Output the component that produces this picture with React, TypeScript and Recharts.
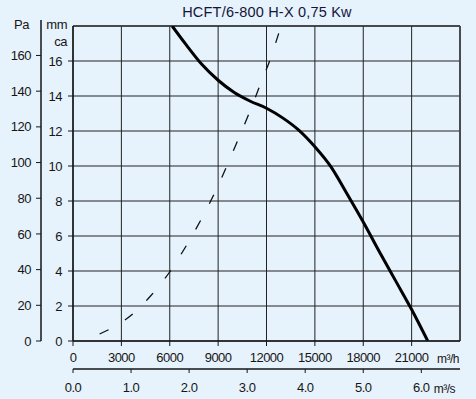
import React from "react";
import {
  ComposedChart,
  Line,
  XAxis,
  YAxis,
  CartesianGrid,
  ReferenceLine,
  Label,
} from "recharts";

// Tick values
const flowTicks = [0, 3000, 6000, 9000, 12000, 15000, 18000, 21000];
const secTicks = [0, 1, 2, 3, 4, 5, 6];
const mmTicks = [0, 2, 4, 6, 8, 10, 12, 14, 16];
const paTicks = [0, 20, 40, 60, 80, 100, 120, 140, 160];

// Fan curve (m3/h, mm ca)
const fanFlow = [6150, 7000, 8000, 9000, 10000, 11000, 12000, 13000, 14000, 15000, 16000, 17000, 18000, 19000, 20000, 21000, 22000];
const fanPressure = [18.0, 16.95, 15.8, 14.9, 14.2, 13.7, 13.3, 12.75, 12.05, 11.1, 9.95, 8.4, 6.8, 5.1, 3.45, 1.8, 0];

// System (dashed) curve (m3/h, mm ca)
const sysFlow = [1650, 3510, 4810, 5960, 6930, 7860, 8700, 10190, 10870, 11550, 12230, 12900];
const sysPressure = [0.4, 1.4, 2.57, 3.9, 5.3, 6.8, 8.3, 11.4, 12.9, 14.5, 16.1, 18.0];

const TITLE = "HCFT/6-800 H-X 0,75 Kw";
const MAX_FLOW = 24000;
const MAX_MM = 18;
const PA_PER_MM = 9.80665;
const H_PER_S = 3600;

const fanData = fanFlow.map((q, i) => ({ q, p: fanPressure[i] }));
const sysData = sysFlow.map((q, i) => ({ q, p: sysPressure[i] }));
const secData = fanFlow.map((q, i) => ({ s: q / H_PER_S, p: fanPressure[i] }));

const BG = "#e6f2fc";
const INK = "#161616";
const FONT = "'Liberation Sans', Arial, sans-serif";

const tickStyle = { fontSize: 13, fill: INK, fontFamily: FONT, letterSpacing: -0.5 };

const txt = (x: number, y: number, s: string, size = 13) => (
  <text
    x={x}
    y={y}
    textAnchor="end"
    fontSize={size}
    fill={INK}
    fontFamily={FONT}
    style={{ letterSpacing: -0.5 }}
  >
    {s}
  </text>
);

export default function App() {
  return (
    <div
      style={{
        position: "absolute",
        left: 0,
        top: 0,
        width: 476,
        height: 399,
        background: BG,
        fontFamily: FONT,
      }}
    >
      <ComposedChart
        width={476}
        height={399}
        margin={{ top: 26, right: 16, bottom: 0, left: 0 }}
      >
        <CartesianGrid
          xAxisId="h"
          yAxisId="mm"
          stroke="#222"
          strokeWidth={1}
        />
        <XAxis
          xAxisId="h"
          dataKey="q"
          type="number"
          domain={[0, MAX_FLOW]}
          ticks={flowTicks}
          interval={0}
          allowDataOverflow
          height={28}
          tickSize={5}
          tickMargin={7}
          tick={tickStyle}
          axisLine={{ stroke: INK, strokeWidth: 1.5 }}
          tickLine={{ stroke: INK }}
        >
          <Label
            content={(props: any) => {
              const vb = props.viewBox || {};
              return txt(vb.x + vb.width - 1, vb.y + 22, "m³/h", 12);
            }}
          />
        </XAxis>
        <XAxis
          xAxisId="s"
          dataKey="s"
          type="number"
          domain={[0, MAX_FLOW / H_PER_S]}
          ticks={secTicks}
          interval={0}
          allowDataOverflow
          height={30}
          tickSize={4}
          tickMargin={10}
          tick={tickStyle}
          tickFormatter={(v: number) => v.toFixed(1)}
          axisLine={{ stroke: INK, strokeWidth: 1.5 }}
          tickLine={{ stroke: INK }}
        >
          <Label
            content={(props: any) => {
              const vb = props.viewBox || {};
              return txt(vb.x + vb.width - 5, vb.y + 24, "m³/s", 12);
            }}
          />
        </XAxis>
        <YAxis
          yAxisId="mm"
          type="number"
          domain={[0, MAX_MM]}
          ticks={mmTicks}
          interval={0}
          allowDataOverflow
          width={32}
          tickSize={5}
          tickMargin={6}
          tick={tickStyle}
          axisLine={{ stroke: INK, strokeWidth: 1.5 }}
          tickLine={{ stroke: INK }}
        >
          <Label
            content={(props: any) => {
              const vb = props.viewBox || {};
              const right = vb.x + vb.width - 6;
              return (
                <g>
                  {txt(right, vb.y + 2.5, "mm")}
                  {txt(right, vb.y + 20, "ca")}
                </g>
              );
            }}
          />
        </YAxis>
        <YAxis
          yAxisId="pa"
          type="number"
          domain={[0, MAX_MM * PA_PER_MM]}
          ticks={paTicks}
          interval={0}
          allowDataOverflow
          width={41}
          tickSize={5}
          tickMargin={5}
          tick={tickStyle}
          axisLine={{ stroke: INK, strokeWidth: 1.5 }}
          tickLine={{ stroke: INK }}
        >
          <Label
            content={(props: any) => {
              const vb = props.viewBox || {};
              const ax = vb.x + vb.width;
              return (
                <g>
                  <line x1={ax} x2={ax} y1={vb.y - 6} y2={vb.y} stroke={INK} strokeWidth={1.5} />
                  {txt(ax - 12, vb.y + 2.5, "Pa")}
                </g>
              );
            }}
          />
        </YAxis>
        <ReferenceLine xAxisId="h" yAxisId="mm" y={MAX_MM} stroke="#333" strokeWidth={1.5} />
        <ReferenceLine xAxisId="h" yAxisId="mm" x={MAX_FLOW} stroke="#444" strokeWidth={1.8} />
        <Line
          xAxisId="s"
          yAxisId="mm"
          data={secData}
          dataKey="p"
          stroke="none"
          dot={false}
          activeDot={false}
          legendType="none"
          isAnimationActive={false}
        />
        <Line
          xAxisId="h"
          yAxisId="mm"
          data={sysData}
          dataKey="p"
          type="monotone"
          stroke="#111"
          strokeWidth={1.3}
          strokeDasharray="10 19"
          dot={false}
          activeDot={false}
          isAnimationActive={false}
        />
        <Line
          xAxisId="h"
          yAxisId="mm"
          data={fanData}
          dataKey="p"
          type="monotone"
          stroke="#000"
          strokeWidth={3}
          dot={false}
          activeDot={false}
          isAnimationActive={false}
        />
        <text
          x={267}
          y={17}
          textAnchor="middle"
          fontSize={14.5}
          fill="#15153a"
          fontFamily={FONT}
          style={{ letterSpacing: 0.2 }}
        >
          {TITLE}
        </text>
      </ComposedChart>
    </div>
  );
}
